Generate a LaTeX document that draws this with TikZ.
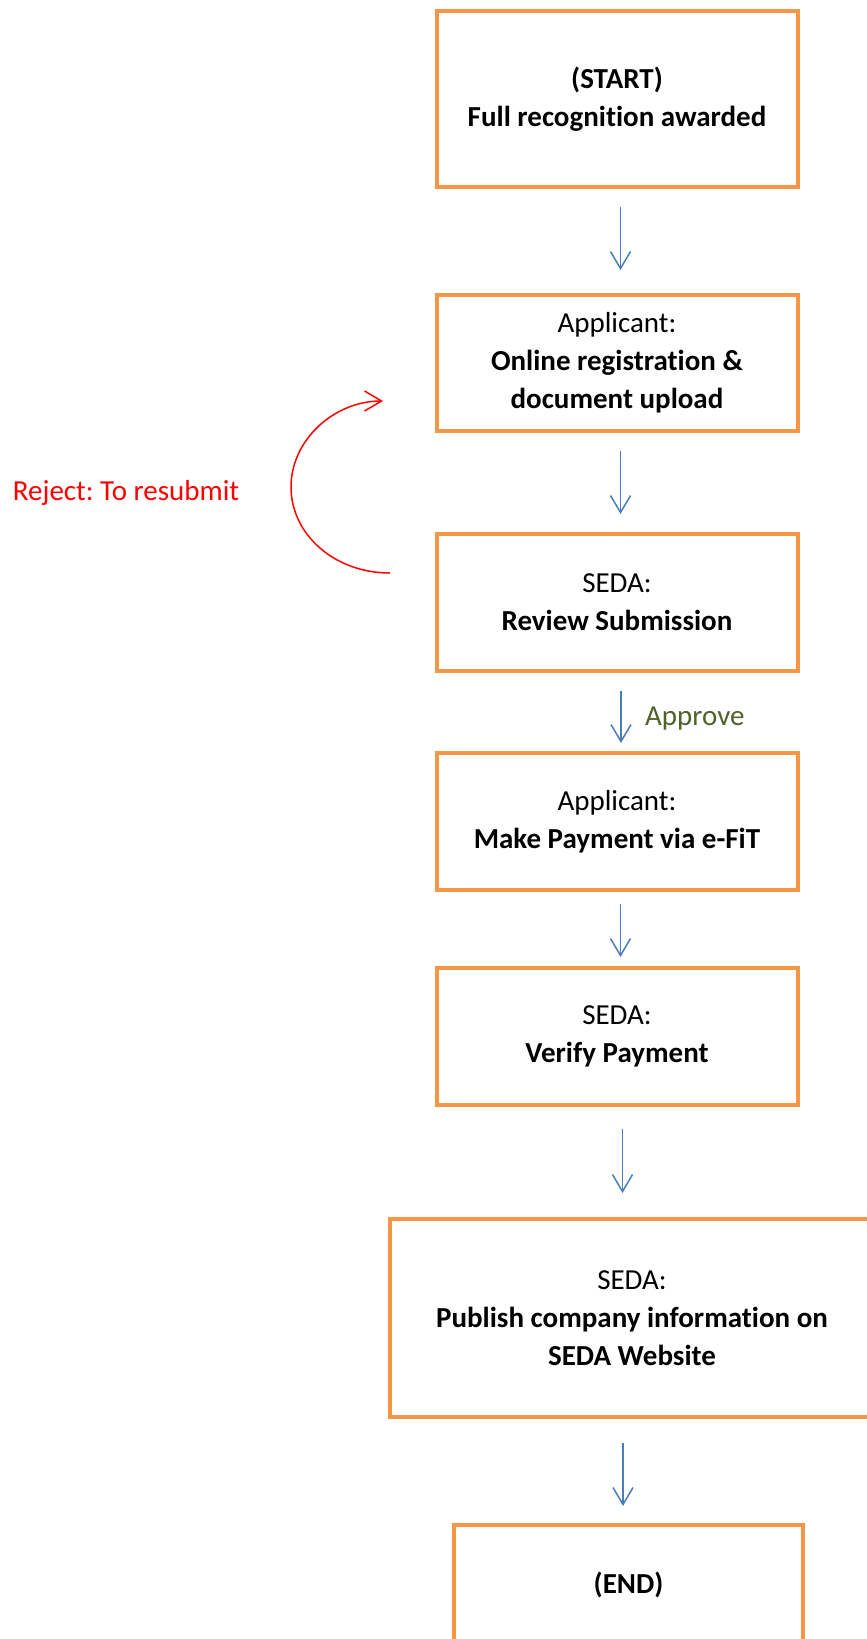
\documentclass[tikz,border=0pt]{standalone}
\usepackage{fontspec}
\setmainfont{Carlito}[Ligatures=NoCommon]
\usetikzlibrary{arrows.meta}
\definecolor{boxorange}{HTML}{F79646}
\definecolor{arrowblue}{HTML}{4A7EBB}
\definecolor{approvegreen}{HTML}{4F6228}
\definecolor{rejectred}{HTML}{FF0000}
\frenchspacing
\begin{document}
\begin{tikzpicture}[x=1pt,y=-1pt,
  box/.style={draw=boxorange, line width=4pt, rectangle, inner sep=0pt,
    align=center, font=\fontsize{29}{38}\selectfont, minimum width=361pt},
  flow/.style={draw=arrowblue, line width=1.5pt,
    -{Straight Barb[length=17pt,width=20pt]}},
  rej/.style={draw=rejectred, line width=1.5pt,
    -{Straight Barb[length=17pt,width=20pt]}},
  lbl/.style={inner sep=0pt, anchor=base west, font=\fontsize{29}{38}\selectfont}
  ]
\useasboundingbox (0,0) rectangle (867,1639);
\clip (0,0) rectangle (867,1639);

\node[box, minimum height=176pt] (b1) at (617,99)
  {\textbf{(START)}\\\textbf{Full recognition awarded}};
\node[box, minimum height=136pt] (b2) at (617,363)
  {Applicant:\\\textbf{Online registration \&}\\\textbf{document upload}};
\node[box, minimum height=137pt] (b3) at (617,602.5)
  {SEDA:\\\textbf{Review Submission}};
\node[box, minimum height=137pt] (b4) at (617,821.5)
  {Applicant:\\\textbf{Make Payment via e-FiT}};
\node[box, minimum height=137pt] (b5) at (617,1036.5)
  {SEDA:\\\textbf{Verify Payment}};
\node[box, minimum height=198pt, minimum width=484pt] (b6) at (632,1318)
  {SEDA:\\\textbf{Publish company information on}\\\textbf{SEDA Website}};
\node[box, minimum height=120pt, minimum width=349pt] (b7) at (628.5,1585)
  {\textbf{(END)}};

\draw[flow, shorten <=18pt, shorten >=23pt] ([xshift=3.5pt]b1.south) -- ([xshift=3.5pt]b2.north);
\draw[flow, shorten <=18pt, shorten >=18pt] ([xshift=3.5pt]b2.south) -- ([xshift=3.5pt]b3.north);
\draw[flow, shorten <=18pt, shorten >=8pt] ([xshift=4pt]b3.south) -- ([xshift=4pt]b4.north);
\draw[flow, shorten <=12pt, shorten >=9pt] ([xshift=3.5pt]b4.south) -- ([xshift=3.5pt]b5.north);
\draw[flow, shorten <=22pt, shorten >=24pt] ([xshift=5.5pt]b5.south) -- ([xshift=-9.5pt]b6.north);
\draw[flow, shorten <=24pt, shorten >=17pt] ([xshift=-9pt]b6.south) -- ([xshift=-5.5pt]b7.north);

\node[lbl, text=approvegreen] (approve) at (645,725) {Approve};
\node[lbl, text=rejectred] (reject) at (12.7,500) {Reject: To resubmit};

\coordinate (rs) at (390,573);
\coordinate (re) at (383,401);
\draw[rej] (rs) .. controls (334,573) and (291,534) .. (291,487)
  .. controls (291,440) and (334,401) .. (re);
\end{tikzpicture}
\end{document}
